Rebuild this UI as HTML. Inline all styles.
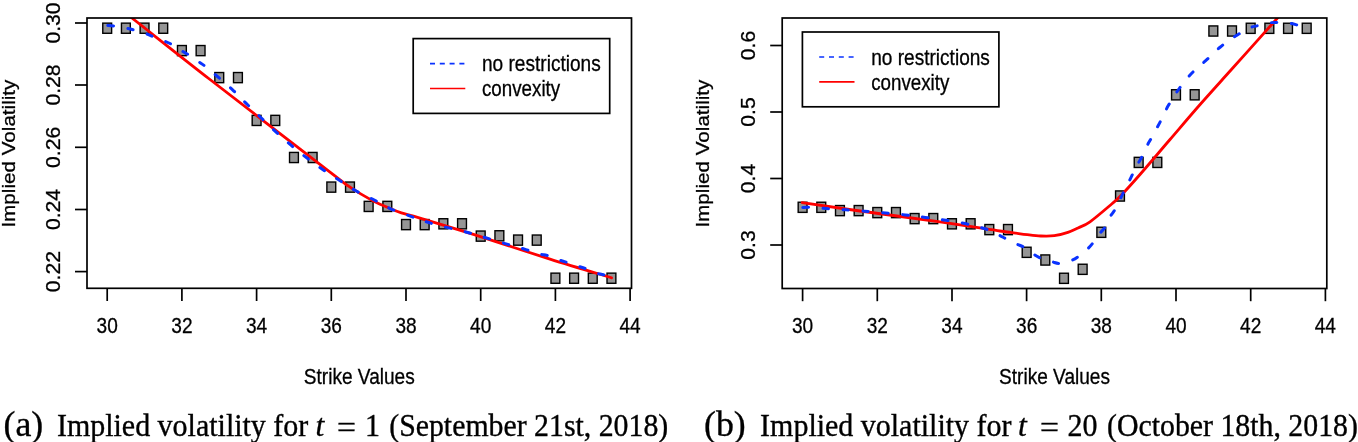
<!DOCTYPE html><html><head><meta charset="utf-8"><style>html,body{margin:0;padding:0;background:#fff;width:1358px;height:442px;overflow:hidden}svg{display:block;will-change:transform}text{font-family:"Liberation Sans", sans-serif;stroke:#000;stroke-width:0.3px} text.serif{font-family:"Liberation Serif", serif;stroke:#000;stroke-width:0.35px}</style></head><body>
<svg width="1358" height="442" viewBox="0 0 1358 442">
<defs><clipPath id="c1"><rect x="87" y="18" width="544.5" height="270.3"/></clipPath><clipPath id="c2"><rect x="782.2" y="18" width="544.6" height="270.5"/></clipPath></defs>
<line x1="107.2" y1="288.3" x2="107.2" y2="301.0" stroke="#000" stroke-width="1.7"/>
<text transform="translate(107.20,333.4) scale(0.9,1)" font-size="21.2" text-anchor="middle">30</text>
<line x1="181.9" y1="288.3" x2="181.9" y2="301.0" stroke="#000" stroke-width="1.7"/>
<text transform="translate(181.90,333.4) scale(0.9,1)" font-size="21.2" text-anchor="middle">32</text>
<line x1="256.6" y1="288.3" x2="256.6" y2="301.0" stroke="#000" stroke-width="1.7"/>
<text transform="translate(256.60,333.4) scale(0.9,1)" font-size="21.2" text-anchor="middle">34</text>
<line x1="331.3" y1="288.3" x2="331.3" y2="301.0" stroke="#000" stroke-width="1.7"/>
<text transform="translate(331.30,333.4) scale(0.9,1)" font-size="21.2" text-anchor="middle">36</text>
<line x1="406.0" y1="288.3" x2="406.0" y2="301.0" stroke="#000" stroke-width="1.7"/>
<text transform="translate(406.00,333.4) scale(0.9,1)" font-size="21.2" text-anchor="middle">38</text>
<line x1="480.7" y1="288.3" x2="480.7" y2="301.0" stroke="#000" stroke-width="1.7"/>
<text transform="translate(480.70,333.4) scale(0.9,1)" font-size="21.2" text-anchor="middle">40</text>
<line x1="555.4" y1="288.3" x2="555.4" y2="301.0" stroke="#000" stroke-width="1.7"/>
<text transform="translate(555.40,333.4) scale(0.9,1)" font-size="21.2" text-anchor="middle">42</text>
<line x1="630.1" y1="288.3" x2="630.1" y2="301.0" stroke="#000" stroke-width="1.7"/>
<text transform="translate(630.10,333.4) scale(0.9,1)" font-size="21.2" text-anchor="middle">44</text>
<line x1="75" y1="23.0" x2="87" y2="23.0" stroke="#000" stroke-width="1.7"/>
<text transform="translate(59.6,23.0) rotate(-90) scale(1,0.96)" font-size="21.2" text-anchor="middle">0.30</text>
<line x1="75" y1="85.0" x2="87" y2="85.0" stroke="#000" stroke-width="1.7"/>
<text transform="translate(59.6,85.0) rotate(-90) scale(1,0.96)" font-size="21.2" text-anchor="middle">0.28</text>
<line x1="75" y1="147.3" x2="87" y2="147.3" stroke="#000" stroke-width="1.7"/>
<text transform="translate(59.6,147.3) rotate(-90) scale(1,0.96)" font-size="21.2" text-anchor="middle">0.26</text>
<line x1="75" y1="209.5" x2="87" y2="209.5" stroke="#000" stroke-width="1.7"/>
<text transform="translate(59.6,209.5) rotate(-90) scale(1,0.96)" font-size="21.2" text-anchor="middle">0.24</text>
<line x1="75" y1="271.6" x2="87" y2="271.6" stroke="#000" stroke-width="1.7"/>
<text transform="translate(59.6,271.6) rotate(-90) scale(1,0.96)" font-size="21.2" text-anchor="middle">0.22</text>
<text transform="translate(359.25,383.6) scale(0.9,1)" font-size="21.2" text-anchor="middle">Strike Values</text>
<text transform="translate(14.6,153.6) rotate(-90) scale(1,0.93)" font-size="20.65" text-anchor="middle">Implied Volatility</text>
<line x1="802.6" y1="288.5" x2="802.6" y2="301.2" stroke="#000" stroke-width="1.7"/>
<text transform="translate(802.60,333.4) scale(0.9,1)" font-size="21.2" text-anchor="middle">30</text>
<line x1="877.3" y1="288.5" x2="877.3" y2="301.2" stroke="#000" stroke-width="1.7"/>
<text transform="translate(877.28,333.4) scale(0.9,1)" font-size="21.2" text-anchor="middle">32</text>
<line x1="952.0" y1="288.5" x2="952.0" y2="301.2" stroke="#000" stroke-width="1.7"/>
<text transform="translate(951.96,333.4) scale(0.9,1)" font-size="21.2" text-anchor="middle">34</text>
<line x1="1026.6" y1="288.5" x2="1026.6" y2="301.2" stroke="#000" stroke-width="1.7"/>
<text transform="translate(1026.64,333.4) scale(0.9,1)" font-size="21.2" text-anchor="middle">36</text>
<line x1="1101.3" y1="288.5" x2="1101.3" y2="301.2" stroke="#000" stroke-width="1.7"/>
<text transform="translate(1101.32,333.4) scale(0.9,1)" font-size="21.2" text-anchor="middle">38</text>
<line x1="1176.0" y1="288.5" x2="1176.0" y2="301.2" stroke="#000" stroke-width="1.7"/>
<text transform="translate(1176.00,333.4) scale(0.9,1)" font-size="21.2" text-anchor="middle">40</text>
<line x1="1250.7" y1="288.5" x2="1250.7" y2="301.2" stroke="#000" stroke-width="1.7"/>
<text transform="translate(1250.68,333.4) scale(0.9,1)" font-size="21.2" text-anchor="middle">42</text>
<line x1="1325.4" y1="288.5" x2="1325.4" y2="301.2" stroke="#000" stroke-width="1.7"/>
<text transform="translate(1325.36,333.4) scale(0.9,1)" font-size="21.2" text-anchor="middle">44</text>
<line x1="770.2" y1="245.0" x2="782.2" y2="245.0" stroke="#000" stroke-width="1.7"/>
<text transform="translate(754.8,245.0) rotate(-90) scale(1,0.96)" font-size="21.2" text-anchor="middle">0.3</text>
<line x1="770.2" y1="178.5" x2="782.2" y2="178.5" stroke="#000" stroke-width="1.7"/>
<text transform="translate(754.8,178.5) rotate(-90) scale(1,0.96)" font-size="21.2" text-anchor="middle">0.4</text>
<line x1="770.2" y1="112.0" x2="782.2" y2="112.0" stroke="#000" stroke-width="1.7"/>
<text transform="translate(754.8,112.0) rotate(-90) scale(1,0.96)" font-size="21.2" text-anchor="middle">0.5</text>
<line x1="770.2" y1="45.5" x2="782.2" y2="45.5" stroke="#000" stroke-width="1.7"/>
<text transform="translate(754.8,45.5) rotate(-90) scale(1,0.96)" font-size="21.2" text-anchor="middle">0.6</text>
<text transform="translate(1054.50,383.6) scale(0.9,1)" font-size="21.2" text-anchor="middle">Strike Values</text>
<text transform="translate(709.4,153.6) rotate(-90) scale(1,0.93)" font-size="20.65" text-anchor="middle">Implied Volatility</text>
<rect x="102.78" y="23.13" width="8.85" height="10.15" fill="#959595" stroke="#000" stroke-width="1.4"/>
<rect x="121.45" y="23.13" width="8.85" height="10.15" fill="#959595" stroke="#000" stroke-width="1.4"/>
<rect x="140.13" y="23.13" width="8.85" height="10.15" fill="#959595" stroke="#000" stroke-width="1.4"/>
<rect x="158.81" y="23.13" width="8.85" height="10.15" fill="#959595" stroke="#000" stroke-width="1.4"/>
<rect x="177.48" y="45.53" width="8.85" height="10.15" fill="#959595" stroke="#000" stroke-width="1.4"/>
<rect x="196.16" y="45.53" width="8.85" height="10.15" fill="#959595" stroke="#000" stroke-width="1.4"/>
<rect x="214.83" y="72.53" width="8.85" height="10.15" fill="#959595" stroke="#000" stroke-width="1.4"/>
<rect x="233.51" y="72.53" width="8.85" height="10.15" fill="#959595" stroke="#000" stroke-width="1.4"/>
<rect x="252.18" y="115.33" width="8.85" height="10.15" fill="#959595" stroke="#000" stroke-width="1.4"/>
<rect x="270.86" y="115.33" width="8.85" height="10.15" fill="#959595" stroke="#000" stroke-width="1.4"/>
<rect x="289.53" y="152.43" width="8.85" height="10.15" fill="#959595" stroke="#000" stroke-width="1.4"/>
<rect x="308.20" y="152.43" width="8.85" height="10.15" fill="#959595" stroke="#000" stroke-width="1.4"/>
<rect x="326.88" y="182.03" width="8.85" height="10.15" fill="#959595" stroke="#000" stroke-width="1.4"/>
<rect x="345.56" y="182.03" width="8.85" height="10.15" fill="#959595" stroke="#000" stroke-width="1.4"/>
<rect x="364.23" y="201.33" width="8.85" height="10.15" fill="#959595" stroke="#000" stroke-width="1.4"/>
<rect x="382.90" y="201.33" width="8.85" height="10.15" fill="#959595" stroke="#000" stroke-width="1.4"/>
<rect x="401.58" y="219.53" width="8.85" height="10.15" fill="#959595" stroke="#000" stroke-width="1.4"/>
<rect x="420.25" y="219.53" width="8.85" height="10.15" fill="#959595" stroke="#000" stroke-width="1.4"/>
<rect x="438.93" y="218.73" width="8.85" height="10.15" fill="#959595" stroke="#000" stroke-width="1.4"/>
<rect x="457.60" y="218.73" width="8.85" height="10.15" fill="#959595" stroke="#000" stroke-width="1.4"/>
<rect x="476.28" y="231.03" width="8.85" height="10.15" fill="#959595" stroke="#000" stroke-width="1.4"/>
<rect x="494.95" y="230.73" width="8.85" height="10.15" fill="#959595" stroke="#000" stroke-width="1.4"/>
<rect x="513.63" y="235.03" width="8.85" height="10.15" fill="#959595" stroke="#000" stroke-width="1.4"/>
<rect x="532.31" y="235.03" width="8.85" height="10.15" fill="#959595" stroke="#000" stroke-width="1.4"/>
<rect x="550.98" y="273.13" width="8.85" height="10.15" fill="#959595" stroke="#000" stroke-width="1.4"/>
<rect x="569.66" y="273.13" width="8.85" height="10.15" fill="#959595" stroke="#000" stroke-width="1.4"/>
<rect x="588.33" y="273.13" width="8.85" height="10.15" fill="#959595" stroke="#000" stroke-width="1.4"/>
<rect x="607.01" y="273.13" width="8.85" height="10.15" fill="#959595" stroke="#000" stroke-width="1.4"/>
<g clip-path="url(#c1)">
<path d="M107.20,-0.80 C111.32,2.33 114.77,4.62 131.90,18.00 C149.03,31.38 176.38,53.35 210.00,79.50 C243.62,105.65 310.75,157.30 333.60,174.90 C356.45,192.50 342.58,181.93 347.10,185.10 C351.62,188.27 356.17,191.18 360.70,193.90 C365.23,196.62 369.78,199.13 374.30,201.40 C378.82,203.67 383.28,205.58 387.80,207.50 C392.32,209.42 396.03,211.13 401.40,212.90 C406.77,214.67 407.73,214.43 420.00,218.10 C432.27,221.77 453.33,228.07 475.00,234.90 C496.67,241.73 527.23,251.95 550.00,259.10 C572.77,266.25 601.33,274.68 611.60,277.80" fill="none" stroke="#ff0000" stroke-width="2.8" stroke-linecap="round" stroke-linejoin="round"/>
<path d="M107.20,25.50 C108.50,25.60 111.78,25.65 115.00,26.10 C118.22,26.55 123.23,27.52 126.50,28.20 C129.77,28.88 131.43,29.30 134.60,30.20 C137.77,31.10 142.40,32.52 145.50,33.60 C148.60,34.68 150.15,35.50 153.20,36.70 C156.25,37.90 160.78,39.55 163.80,40.80 C166.82,42.05 168.37,42.57 171.30,44.20 C174.23,45.83 178.47,48.80 181.40,50.60 C184.33,52.40 186.07,53.17 188.90,55.00 C191.73,56.83 195.68,59.72 198.40,61.60 C201.12,63.48 202.13,63.90 205.20,66.30 C208.27,68.70 212.23,72.08 216.80,76.00 C221.37,79.92 227.70,85.23 232.60,89.80 C237.50,94.37 241.58,98.87 246.20,103.40 C250.82,107.93 255.40,112.28 260.30,117.00 C265.20,121.72 270.48,127.00 275.60,131.70 C280.72,136.40 285.82,140.85 291.00,145.20 C296.18,149.55 301.42,153.75 306.70,157.80 C311.98,161.85 317.32,165.78 322.70,169.50 C328.08,173.22 333.57,176.60 339.00,180.10 C344.43,183.60 349.42,187.18 355.30,190.50 C361.18,193.82 368.42,196.95 374.30,200.00 C380.18,203.05 384.72,206.15 390.60,208.80 C396.48,211.45 403.93,213.82 409.60,215.90 C415.27,217.98 419.13,219.55 424.60,221.30 C430.07,223.05 436.03,224.77 442.40,226.40 C448.77,228.03 456.43,229.47 462.80,231.10 C469.17,232.73 474.38,234.35 480.60,236.20 C486.82,238.05 493.60,240.30 500.10,242.20 C506.60,244.10 513.12,245.67 519.60,247.60 C526.08,249.53 534.42,252.48 539.00,253.80 C543.58,255.12 543.93,254.53 547.10,255.50 C550.27,256.47 554.82,258.48 558.00,259.60 C561.18,260.72 563.03,261.13 566.20,262.20 C569.37,263.27 573.83,264.97 577.00,266.00 C580.17,267.03 582.15,267.27 585.20,268.40 C588.25,269.53 592.25,271.73 595.30,272.80 C598.35,273.87 600.85,274.05 603.50,274.80 C606.15,275.55 609.92,276.88 611.20,277.30" fill="none" stroke="#0a32ff" stroke-width="3" stroke-dasharray="5.6 14.4" stroke-dashoffset="-0.8" stroke-linecap="round" stroke-linejoin="round"/>
</g>
<rect x="798.18" y="202.23" width="8.85" height="10.15" fill="#959595" stroke="#000" stroke-width="1.4"/>
<rect x="816.85" y="202.23" width="8.85" height="10.15" fill="#959595" stroke="#000" stroke-width="1.4"/>
<rect x="835.52" y="205.53" width="8.85" height="10.15" fill="#959595" stroke="#000" stroke-width="1.4"/>
<rect x="854.19" y="205.53" width="8.85" height="10.15" fill="#959595" stroke="#000" stroke-width="1.4"/>
<rect x="872.86" y="207.53" width="8.85" height="10.15" fill="#959595" stroke="#000" stroke-width="1.4"/>
<rect x="891.53" y="207.53" width="8.85" height="10.15" fill="#959595" stroke="#000" stroke-width="1.4"/>
<rect x="910.20" y="213.53" width="8.85" height="10.15" fill="#959595" stroke="#000" stroke-width="1.4"/>
<rect x="928.87" y="213.53" width="8.85" height="10.15" fill="#959595" stroke="#000" stroke-width="1.4"/>
<rect x="947.54" y="218.73" width="8.85" height="10.15" fill="#959595" stroke="#000" stroke-width="1.4"/>
<rect x="966.21" y="218.73" width="8.85" height="10.15" fill="#959595" stroke="#000" stroke-width="1.4"/>
<rect x="984.88" y="224.53" width="8.85" height="10.15" fill="#959595" stroke="#000" stroke-width="1.4"/>
<rect x="1003.55" y="224.53" width="8.85" height="10.15" fill="#959595" stroke="#000" stroke-width="1.4"/>
<rect x="1022.22" y="247.23" width="8.85" height="10.15" fill="#959595" stroke="#000" stroke-width="1.4"/>
<rect x="1040.89" y="254.93" width="8.85" height="10.15" fill="#959595" stroke="#000" stroke-width="1.4"/>
<rect x="1059.56" y="273.23" width="8.85" height="10.15" fill="#959595" stroke="#000" stroke-width="1.4"/>
<rect x="1078.23" y="264.23" width="8.85" height="10.15" fill="#959595" stroke="#000" stroke-width="1.4"/>
<rect x="1096.90" y="227.23" width="8.85" height="10.15" fill="#959595" stroke="#000" stroke-width="1.4"/>
<rect x="1115.57" y="190.93" width="8.85" height="10.15" fill="#959595" stroke="#000" stroke-width="1.4"/>
<rect x="1134.24" y="157.33" width="8.85" height="10.15" fill="#959595" stroke="#000" stroke-width="1.4"/>
<rect x="1152.91" y="157.33" width="8.85" height="10.15" fill="#959595" stroke="#000" stroke-width="1.4"/>
<rect x="1171.58" y="89.73" width="8.85" height="10.15" fill="#959595" stroke="#000" stroke-width="1.4"/>
<rect x="1190.25" y="89.73" width="8.85" height="10.15" fill="#959595" stroke="#000" stroke-width="1.4"/>
<rect x="1208.92" y="25.93" width="8.85" height="10.15" fill="#959595" stroke="#000" stroke-width="1.4"/>
<rect x="1227.59" y="25.93" width="8.85" height="10.15" fill="#959595" stroke="#000" stroke-width="1.4"/>
<rect x="1246.26" y="23.23" width="8.85" height="10.15" fill="#959595" stroke="#000" stroke-width="1.4"/>
<rect x="1264.93" y="23.23" width="8.85" height="10.15" fill="#959595" stroke="#000" stroke-width="1.4"/>
<rect x="1283.60" y="23.23" width="8.85" height="10.15" fill="#959595" stroke="#000" stroke-width="1.4"/>
<rect x="1302.27" y="23.23" width="8.85" height="10.15" fill="#959595" stroke="#000" stroke-width="1.4"/>
<g clip-path="url(#c2)">
<path d="M802.20,202.60 C811.83,204.00 837.03,207.78 860.00,211.00 C882.97,214.22 916.67,218.57 940.00,221.90 C963.33,225.23 987.73,229.18 1000.00,231.00 C1012.27,232.82 1009.07,232.18 1013.60,232.80 C1018.13,233.42 1022.68,234.17 1027.20,234.70 C1031.72,235.23 1036.18,235.83 1040.70,236.00 C1045.22,236.17 1049.77,236.32 1054.30,235.70 C1058.83,235.08 1063.93,233.60 1067.90,232.30 C1071.87,231.00 1074.42,229.65 1078.10,227.90 C1081.78,226.15 1084.40,225.78 1090.00,221.80 C1095.60,217.82 1106.50,208.42 1111.70,204.00 C1116.90,199.58 1116.48,200.22 1121.20,195.30 C1125.92,190.38 1131.87,183.80 1140.00,174.50 C1148.13,165.20 1159.98,151.17 1170.00,139.50 C1180.02,127.83 1189.90,116.12 1200.10,104.50 C1210.30,92.88 1221.22,80.95 1231.20,69.80 C1241.18,58.65 1250.20,48.57 1260.00,37.60 C1269.80,26.63 1283.33,11.43 1290.00,4.00 C1296.67,-3.43 1298.33,-5.17 1300.00,-7.00" fill="none" stroke="#ff0000" stroke-width="2.8" stroke-linecap="round" stroke-linejoin="round"/>
<path d="M802.20,207.40 C803.57,207.40 807.18,207.27 810.40,207.40 C813.62,207.53 818.12,207.97 821.50,208.20 C824.88,208.43 827.35,208.57 830.70,208.80 C834.05,209.03 838.38,209.38 841.60,209.60 C844.82,209.82 846.73,209.87 850.00,210.10 C853.27,210.33 857.87,210.75 861.20,211.00 C864.53,211.25 865.90,211.25 870.00,211.60 C874.10,211.95 879.92,212.55 885.80,213.10 C891.68,213.65 898.73,214.18 905.30,214.90 C911.87,215.62 916.08,216.12 925.20,217.40 C934.32,218.68 950.03,220.70 960.00,222.60 C969.97,224.50 978.73,226.82 985.00,228.80 C991.27,230.78 994.08,232.83 997.60,234.50 C1001.12,236.17 1002.98,237.23 1006.10,238.80 C1009.22,240.37 1013.32,242.50 1016.30,243.90 C1019.28,245.30 1021.17,245.52 1024.00,247.20 C1026.83,248.88 1030.48,252.15 1033.30,254.00 C1036.12,255.85 1037.78,257.02 1040.90,258.30 C1044.02,259.58 1048.88,260.85 1052.00,261.70 C1055.12,262.55 1056.50,263.55 1059.60,263.40 C1062.70,263.25 1067.48,261.93 1070.60,260.80 C1073.72,259.67 1075.47,258.58 1078.30,256.60 C1081.13,254.62 1085.07,251.30 1087.60,248.90 C1090.13,246.50 1091.52,244.73 1093.50,242.20 C1095.48,239.67 1097.52,236.25 1099.50,233.70 C1101.48,231.15 1103.67,229.67 1105.40,226.90 C1107.13,224.13 1108.32,219.97 1109.90,217.10 C1111.48,214.23 1113.23,212.60 1114.90,209.70 C1116.57,206.80 1118.45,202.62 1119.90,199.70 C1121.35,196.78 1122.15,195.10 1123.60,192.20 C1125.05,189.30 1127.15,185.20 1128.60,182.30 C1130.05,179.40 1130.85,177.70 1132.30,174.80 C1133.75,171.90 1135.63,168.02 1137.30,164.90 C1138.97,161.78 1140.72,159.22 1142.30,156.10 C1143.88,152.98 1145.35,149.10 1146.80,146.20 C1148.25,143.30 1148.83,142.63 1151.00,138.70 C1153.17,134.77 1156.92,128.12 1159.80,122.60 C1162.68,117.08 1165.23,111.03 1168.30,105.60 C1171.37,100.17 1174.42,95.27 1178.20,90.00 C1181.98,84.73 1186.42,78.88 1191.00,74.00 C1195.58,69.12 1200.80,65.20 1205.70,60.70 C1210.60,56.20 1215.30,51.18 1220.40,47.00 C1225.50,42.82 1231.33,38.82 1236.30,35.60 C1241.27,32.38 1246.52,29.37 1250.20,27.70 C1253.88,26.03 1255.22,26.40 1258.40,25.60 C1261.58,24.80 1266.02,23.42 1269.30,22.90 C1272.58,22.38 1274.72,22.43 1278.10,22.50 C1281.48,22.57 1286.32,22.85 1289.60,23.30 C1292.88,23.75 1294.97,24.42 1297.80,25.20 C1300.63,25.98 1305.13,27.53 1306.60,28.00" fill="none" stroke="#0a32ff" stroke-width="3" stroke-dasharray="5.6 14.4" stroke-dashoffset="-0.8" stroke-linecap="round" stroke-linejoin="round"/>
</g>
<rect x="87" y="18" width="544.5" height="270.3" fill="none" stroke="#000" stroke-width="1.7"/>
<rect x="782.2" y="18" width="544.6" height="270.5" fill="none" stroke="#000" stroke-width="1.7"/>
<rect x="413.2" y="38.6" width="196.5" height="74.8" fill="#fff" stroke="#000" stroke-width="1.7"/>
<line x1="430.0" y1="63.6" x2="465.3" y2="63.6" stroke="#0a32ff" stroke-width="1.7" stroke-dasharray="5 4.8"/>
<line x1="430.0" y1="88.5" x2="465.3" y2="88.5" stroke="#ff0000" stroke-width="1.6"/>
<text transform="translate(482.0,71.2) scale(0.9,1)" font-size="21.2">no restrictions</text>
<text transform="translate(482.0,96.1) scale(0.885,1)" font-size="21.2">convexity</text>
<rect x="802.4" y="32.0" width="196.5" height="74.8" fill="#fff" stroke="#000" stroke-width="1.7"/>
<line x1="819.1999999999999" y1="57.0" x2="854.5" y2="57.0" stroke="#0a32ff" stroke-width="1.7" stroke-dasharray="5 4.8"/>
<line x1="819.1999999999999" y1="81.9" x2="854.5" y2="81.9" stroke="#ff0000" stroke-width="1.6"/>
<text transform="translate(871.1999999999999,64.6) scale(0.9,1)" font-size="21.2">no restrictions</text>
<text transform="translate(871.1999999999999,89.5) scale(0.885,1)" font-size="21.2">convexity</text>
<text class="serif" transform="translate(3.5,435.7) scale(1.0,1)" font-size="35.8">(a)</text>
<text class="serif" transform="translate(56.9,435.7) scale(0.98,1)" font-size="30.6">Implied volatility for</text>
<text class="serif" transform="translate(315.5,435.7) scale(1.0,1)" font-size="31.5" font-style="italic">t</text>
<text class="serif" transform="translate(336.9,437.5) scale(1.1,1)" font-size="30.6">=</text>
<text class="serif" transform="translate(365.1,435.7) scale(0.98,1)" font-size="30.6">1</text>
<text class="serif" transform="translate(389.2,435.7) scale(0.975,1)" font-size="30.6">(September 21st, 2018)</text>
<text class="serif" transform="translate(704,435.7) scale(1.0,1)" font-size="35.8">(b)</text>
<text class="serif" transform="translate(760.1,435.7) scale(0.98,1)" font-size="30.6">Implied volatility for</text>
<text class="serif" transform="translate(1017.9,435.7) scale(1.0,1)" font-size="31.5" font-style="italic">t</text>
<text class="serif" transform="translate(1039.9,437.5) scale(1.1,1)" font-size="30.6">=</text>
<text class="serif" transform="translate(1067.6,435.7) scale(0.98,1)" font-size="30.6">20</text>
<text class="serif" transform="translate(1107,435.7) scale(0.975,1)" font-size="30.6">(October 18th, 2018)</text>
</svg></body></html>
